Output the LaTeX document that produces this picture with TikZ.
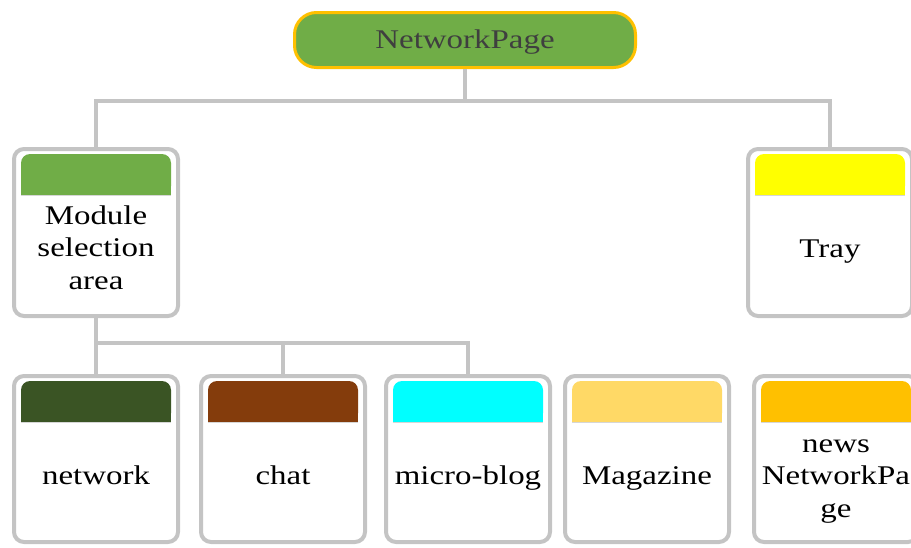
\documentclass[tikz,border=0pt]{standalone}
\usepackage{fontspec}
\setmainfont{Liberation Serif}[FakeStretch=1.22]
\definecolor{linegray}{HTML}{C4C4C4}
\definecolor{leafgreen}{HTML}{70AD47}
\definecolor{amber}{HTML}{FFC000}
\definecolor{forest}{HTML}{3A5424}
\definecolor{rust}{HTML}{843C0C}
\definecolor{aqua}{HTML}{00FFFF}
\definecolor{sand}{HTML}{FFD966}
\definecolor{lemon}{HTML}{FFFF00}
\definecolor{ink}{HTML}{3F3F3F}
% coloured header strip inside a card: rounded on top, square at the bottom
\newcommand\cardbar[2]{%
  \fill[#2, rounded corners=9pt] ([xshift=9pt,yshift=-7pt]#1.north west) rectangle ([xshift=-9pt,yshift=-48pt]#1.north east);
  \fill[#2] ([xshift=9pt,yshift=-25pt]#1.north west) rectangle ([xshift=-9pt,yshift=-48pt]#1.north east);
  \draw[linegray!70, line width=0.6pt] ([xshift=9pt,yshift=-48pt]#1.north west) -- ([xshift=-9pt,yshift=-48pt]#1.north east);
}
\begin{document}
\begin{tikzpicture}[x=1pt, y=-1pt,
  font=\fontsize{27}{32.5}\selectfont,
  link/.style={draw=linegray, line width=4pt},
  card/.style={draw=linegray, line width=4pt, rounded corners=10pt, fill=white,
    minimum width=164pt, inner sep=0pt},
  upper/.style={card, minimum height=167pt},
  lower/.style={card, minimum height=166pt},
  label/.style={align=center, inner sep=0pt, text=black, anchor=base},
  rootbox/.style={draw=amber, line width=3pt, fill=leafgreen, rounded corners=22pt,
    minimum width=341pt, minimum height=55pt, inner sep=0pt}]
\useasboundingbox (0,0) rectangle (911,547);

% root
\node[rootbox] (root) at (465,40) {};
\node[label, text=ink] (roottxt) at (465,48) {NetworkPage};

% first level
\node[upper] (mod)  at (96,232.5) {};
\node[upper] (tray) at (830,232.5) {};

% second level
\node[lower] (net)  at (96,459)  {};
\node[lower] (chat) at (283,459) {};
\node[lower] (blog) at (468,459) {};
\node[lower] (mag)  at (647,459) {};
\node[lower] (news) at (836,459) {};

% connectors
\coordinate (j1) at (465,101);
\coordinate (j2) at (96,343);
\draw[link] (root.south) -- (j1);
\draw[link] (mod.north) |- (j1) -| (tray.north);
\draw[link] (mod.south) -- (net.north);
\draw[link] (j2) -| (chat.north);
\draw[link] (j2) -| (blog.north);

% header strips
\cardbar{mod}{leafgreen}
\cardbar{tray}{lemon}
\cardbar{net}{forest}
\cardbar{chat}{rust}
\cardbar{blog}{aqua}
\cardbar{mag}{sand}
\cardbar{news}{amber}

% card texts (positions are last-line baselines)
\node[label] (modtxt)  at (96,289)  {Module\\selection\\area};
\node[label] (traytxt) at (830,257) {Tray};
\node[label] (nettxt)  at (96,484)  {network};
\node[label] (chattxt) at (283,484) {chat};
\node[label] (blogtxt) at (468,484) {micro-blog};
\node[label] (magtxt)  at (647,484) {Magazine};
\node[label] (newstxt) at (836,517) {news\\NetworkPa\\ge};
\end{tikzpicture}
\end{document}
